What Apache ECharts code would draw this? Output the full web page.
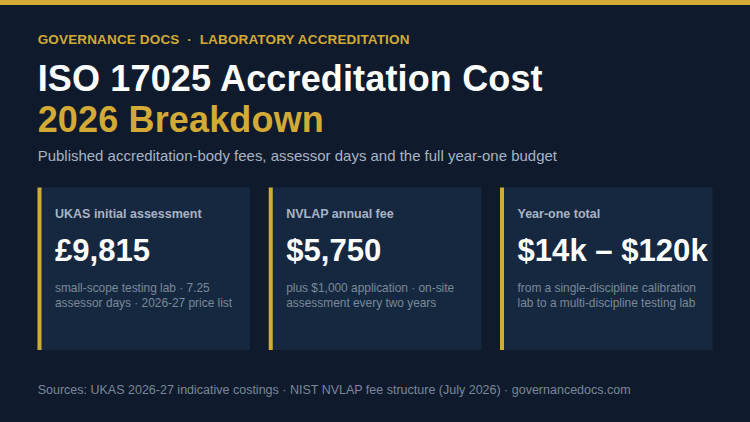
<!DOCTYPE html>
<html><head><meta charset="utf-8">
<style>html,body{margin:0;padding:0;background:#0f1b2d}#c{width:750px;height:422px}</style>
<script src="https://cdn.jsdelivr.net/npm/echarts@6/dist/echarts.min.js"></script>
</head><body><div id="c"></div>
<script>
const eyebrow = 'GOVERNANCE DOCS  ·  LABORATORY ACCREDITATION';
const titleLine1 = 'ISO 17025 Accreditation Cost';
const titleLine2 = '2026 Breakdown';
const subtitle = 'Published accreditation-body fees, assessor days and the full year-one budget';
const cardLabels = ['UKAS initial assessment', 'NVLAP annual fee', 'Year-one total'];
const cardValues = ['£9,815', '$5,750', '$14k – $120k'];
const cardNotes = [
  ['small-scope testing lab · 7.25', 'assessor days · 2026-27 price list'],
  ['plus $1,000 application · on-site', 'assessment every two years'],
  ['from a single-discipline calibration', 'lab to a multi-discipline testing lab']
];
const sources = 'Sources: UKAS 2026-27 indicative costings · NIST NVLAP fee structure (July 2026) · governancedocs.com';

const FF = '"Liberation Sans", Arial, sans-serif';
const GOLD = '#d2aa35';
const t = (x, b, text, size, weight, fill) => ({
  type: 'text', x, y: b - 0.8465 * size,
  style: { text, fill, font: `${weight} ${size}px ${FF}`, verticalAlign: 'top' }
});
const r = (x, y, w, h, fill) => ({ type: 'rect', shape: { x, y, width: w, height: h }, style: { fill } });

const els = [
  r(0, 0, 750, 422, '#0f1b2d'),
  r(0, 0, 750, 5, GOLD),
  t(37.7, 43.7, eyebrow, 13.5, 'bold', GOLD),
  t(37.7, 91, titleLine1, 36, 'bold', '#ffffff'),
  t(37.7, 132, titleLine2, 36, 'bold', GOLD),
  t(37.7, 161, subtitle, 14.97, 'normal', '#a8b4c4'),
  t(37.7, 394, sources, 12.5, 'normal', '#7a8899')
];
cardLabels.forEach((lab, i) => {
  const x = 37.5 + i * 231.25;
  els.push(r(x, 187.5, 212.5, 162.5, '#162840'));
  els.push(r(x, 187.5, 4, 162.5, GOLD));
  els.push(t(x + 17.5, 217.7, lab, 12.5, 'bold', '#a8b4c4'));
  els.push(t(x + 17.5, 261.5, cardValues[i], 31.1, 'bold', '#ffffff'));
  cardNotes[i].forEach((n, j) => els.push(t(x + 17.5, 291.8 + j * 15.6, n, 11.9, 'normal', '#7a8899')));
});
const chart = echarts.init(document.getElementById('c'), null, { renderer: 'svg', width: 750, height: 422 });
chart.setOption({ backgroundColor: '#0f1b2d', animation: false, graphic: { elements: els } });
const spacing = () => document.querySelectorAll('#c svg text').forEach(n => {
  if (n.textContent === eyebrow) n.style.letterSpacing = '0.15px';
  if (n.textContent === titleLine1 || n.textContent === titleLine2) n.style.letterSpacing = '0.15px';
});
chart.getZr().flush();
spacing();
chart.on('finished', spacing);
</script></body></html>
